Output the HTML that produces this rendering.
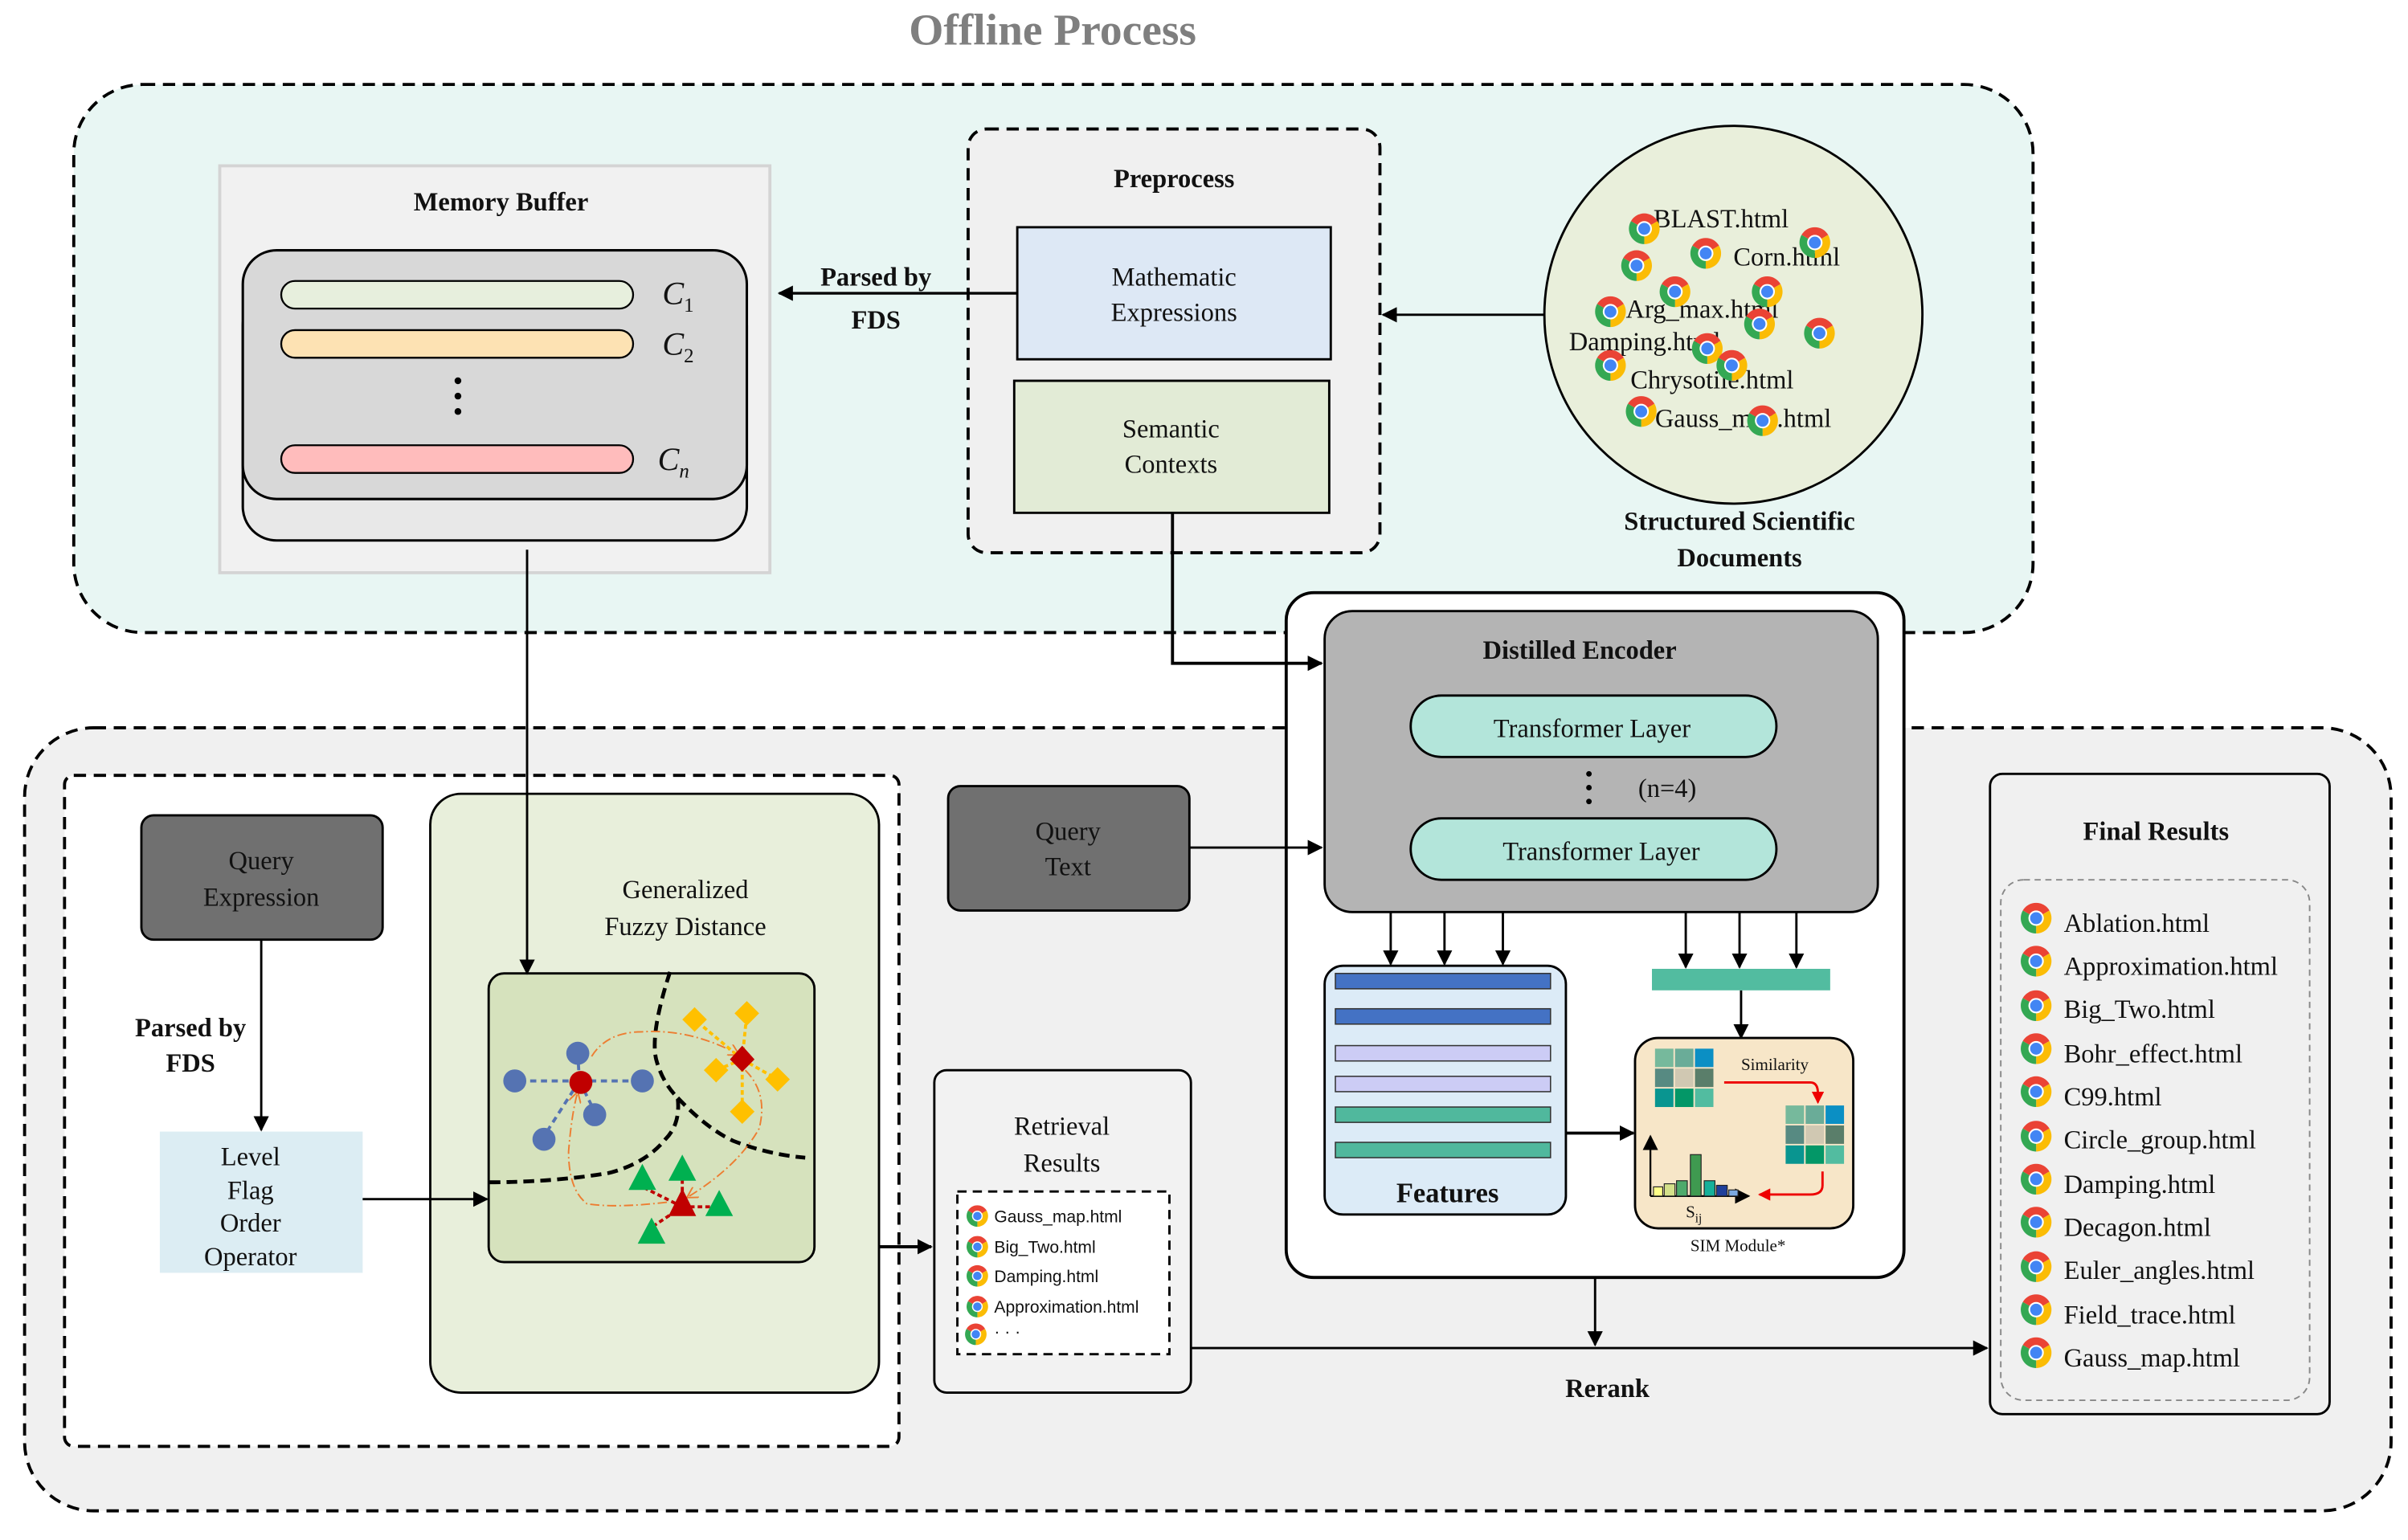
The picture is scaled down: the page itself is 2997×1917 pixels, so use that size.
<!DOCTYPE html>
<html><head><meta charset="utf-8"><style>
html,body{margin:0;padding:0;background:#fff;}
svg{display:block;}
text{font-family:"Liberation Serif",serif;fill:#111;}
.b{font-weight:bold;}
.s{font-family:"Liberation Sans",sans-serif;}
</style></head><body>
<svg width="2997" height="1917" viewBox="0 0 1567 1003" preserveAspectRatio="none" xmlns="http://www.w3.org/2000/svg">
<defs>
<g id="ch">
<path d="M0,0 L-8.66,-5 A10,10 0 0 1 8.66,-5 Z" fill="#ea4335"/>
<path d="M0,0 L8.66,-5 A10,10 0 0 1 0,10 Z" fill="#fbbc05"/>
<path d="M0,0 L0,10 A10,10 0 0 1 -8.66,-5 Z" fill="#34a853"/>
<circle r="5" fill="#fff"/><circle r="3.9" fill="#4285f4"/>
</g>
<marker id="ar" markerWidth="10" markerHeight="10" refX="9" refY="5" orient="auto" markerUnits="userSpaceOnUse"><path d="M0,0 L10,5 L0,10 Z" fill="#000"/></marker>
<marker id="ra" markerWidth="8" markerHeight="8" refX="7" refY="4" orient="auto" markerUnits="userSpaceOnUse"><path d="M0,0 L8,4 L0,8 Z" fill="#e00"/></marker>
<marker id="oa" markerWidth="8" markerHeight="8" refX="7" refY="4" orient="auto" markerUnits="userSpaceOnUse"><path d="M0,0 L7,4 L0,8" fill="none" stroke="#ed7d31" stroke-width="1"/></marker>
</defs>

<text x="685" y="29" text-anchor="middle" class="b" font-size="29" style="fill:#7f7f7f">Offline Process</text>

<rect x="48" y="55" width="1275" height="357" rx="45" fill="#e8f6f3" stroke="#000" stroke-width="2" stroke-dasharray="8,5"/>
<rect x="16" y="474" width="1540" height="510" rx="45" fill="#f0f0f0" stroke="#000" stroke-width="2" stroke-dasharray="8,5"/>
<rect x="42" y="505" width="543" height="437" rx="6" fill="#fff" stroke="#000" stroke-width="2" stroke-dasharray="8,5"/>

<rect x="143" y="108" width="358" height="265" fill="#f1f1f1" stroke="#d4d4d4" stroke-width="2"/>
<text x="326" y="137" text-anchor="middle" class="b" font-size="17">Memory Buffer</text>
<rect x="158" y="190" width="328" height="162" rx="22" fill="#e8e8e8" stroke="#000" stroke-width="1.6"/>
<rect x="158" y="163" width="328" height="162" rx="22" fill="#d8d8d8" stroke="#000" stroke-width="1.6"/>
<rect x="183" y="183" width="229" height="18" rx="9" fill="#e7efdd" stroke="#000" stroke-width="1.2"/>
<rect x="183" y="215" width="229" height="18" rx="9" fill="#fde2b3" stroke="#000" stroke-width="1.2"/>
<rect x="183" y="290" width="229" height="18" rx="9" fill="#ffbcbc" stroke="#000" stroke-width="1.2"/>
<text x="431" y="198" font-size="21" font-style="italic">C<tspan font-size="13" dy="5" font-style="normal">1</tspan></text>
<text x="431" y="231" font-size="21" font-style="italic">C<tspan font-size="13" dy="5" font-style="normal">2</tspan></text>
<text x="428" y="306" font-size="21" font-style="italic">C<tspan font-size="13" dy="5">n</tspan></text>
<circle cx="298" cy="248" r="2.2" fill="#000"/><circle cx="298" cy="258" r="2.2" fill="#000"/><circle cx="298" cy="268" r="2.2" fill="#000"/>

<rect x="630" y="84" width="268" height="276" rx="12" fill="#f0f0f0" stroke="#000" stroke-width="2" stroke-dasharray="8,5"/>
<text x="764" y="122" text-anchor="middle" class="b" font-size="17">Preprocess</text>
<rect x="662" y="148" width="204" height="86" fill="#dde8f5" stroke="#000" stroke-width="1.5"/>
<text x="764" y="186" text-anchor="middle" font-size="17">Mathematic</text>
<text x="764" y="209" text-anchor="middle" font-size="17">Expressions</text>
<rect x="660" y="248" width="205" height="86" fill="#e2ebd6" stroke="#000" stroke-width="1.5"/>
<text x="762" y="285" text-anchor="middle" font-size="17">Semantic</text>
<text x="762" y="308" text-anchor="middle" font-size="17">Contexts</text>

<line x1="662" y1="191" x2="507" y2="191" stroke="#000" stroke-width="1.8" marker-end="url(#ar)"/>
<text x="570" y="186" text-anchor="middle" class="b" font-size="17">Parsed by</text>
<text x="570" y="214" text-anchor="middle" class="b" font-size="17">FDS</text>

<circle cx="1128" cy="205" r="123" fill="#e9efdb" stroke="#000" stroke-width="1.5"/>
<line x1="1005" y1="205" x2="900" y2="205" stroke="#000" stroke-width="1.5" marker-end="url(#ar)"/>
<g font-size="17">
<text x="1076" y="148">BLAST.html</text>
<text x="1128" y="173">Corn.html</text>
<text x="1058" y="207">Arg_max.html</text>
<text x="1021" y="228">Damping.html</text>
<text x="1061" y="253">Chrysotile.html</text>
<text x="1077" y="278">Gauss_map.html</text>
</g>
<use href="#ch" x="1070" y="149"/><use href="#ch" x="1110" y="165"/><use href="#ch" x="1181" y="158"/>
<use href="#ch" x="1065" y="173"/><use href="#ch" x="1090" y="190"/><use href="#ch" x="1150" y="190"/>
<use href="#ch" x="1048" y="203"/><use href="#ch" x="1145" y="211"/><use href="#ch" x="1184" y="217"/>
<use href="#ch" x="1111" y="227"/><use href="#ch" x="1127" y="238"/><use href="#ch" x="1048" y="238"/>
<use href="#ch" x="1068" y="268"/><use href="#ch" x="1147" y="274"/>
<text x="1132" y="345" text-anchor="middle" class="b" font-size="17">Structured Scientific</text>
<text x="1132" y="369" text-anchor="middle" class="b" font-size="17">Documents</text>

<rect x="837" y="386" width="402" height="446" rx="18" fill="#fff" stroke="#000" stroke-width="2"/>
<polyline points="763,334 763,432 860,432" fill="none" stroke="#000" stroke-width="2" marker-end="url(#ar)"/>
<rect x="862" y="398" width="360" height="196" rx="18" fill="#b4b4b4" stroke="#000" stroke-width="1.5"/>
<text x="1028" y="429" text-anchor="middle" class="b" font-size="17">Distilled Encoder</text>
<rect x="918" y="453" width="238" height="40" rx="20" fill="#b3e5da" stroke="#000" stroke-width="1.5"/>
<text x="1036" y="480" text-anchor="middle" font-size="17">Transformer Layer</text>
<rect x="918" y="533" width="238" height="40" rx="20" fill="#b3e5da" stroke="#000" stroke-width="1.5"/>
<text x="1042" y="560" text-anchor="middle" font-size="17">Transformer Layer</text>
<circle cx="1034" cy="504" r="1.8" fill="#000"/><circle cx="1034" cy="513" r="1.8" fill="#000"/><circle cx="1034" cy="522" r="1.8" fill="#000"/>
<text x="1085" y="519" text-anchor="middle" font-size="17">(n=4)</text>

<g stroke="#000" stroke-width="1.5">
<line x1="905" y1="594" x2="905" y2="628" marker-end="url(#ar)"/>
<line x1="940" y1="594" x2="940" y2="628" marker-end="url(#ar)"/>
<line x1="978" y1="594" x2="978" y2="628" marker-end="url(#ar)"/>
<line x1="1097" y1="594" x2="1097" y2="630" marker-end="url(#ar)"/>
<line x1="1132" y1="594" x2="1132" y2="630" marker-end="url(#ar)"/>
<line x1="1169" y1="594" x2="1169" y2="630" marker-end="url(#ar)"/>
<line x1="1133" y1="645" x2="1133" y2="676" marker-end="url(#ar)"/>
<line x1="1019" y1="738" x2="1063" y2="738" stroke-width="2" marker-end="url(#ar)"/>
</g>

<rect x="862" y="629" width="157" height="162" rx="12" fill="#dcebf7" stroke="#000" stroke-width="1.5"/>
<g stroke="#333" stroke-width="0.8">
<rect x="869" y="634" width="140" height="10" fill="#4472c4"/>
<rect x="869" y="657" width="140" height="10" fill="#4472c4"/>
<rect x="869" y="681" width="140" height="10" fill="#ccccf5"/>
<rect x="869" y="701" width="140" height="10" fill="#ccccf5"/>
<rect x="869" y="721" width="140" height="10" fill="#50b89d"/>
<rect x="869" y="744" width="140" height="10" fill="#50b89d"/>
</g>
<text x="942" y="783" text-anchor="middle" class="b" font-size="18">Features</text>
<rect x="1075" y="631" width="116" height="14" fill="#52bca0"/>

<rect x="1064" y="676" width="142" height="124" rx="15" fill="#f7e6c8" stroke="#000" stroke-width="1.5"/>
<g>
<rect x="1077" y="683" width="12" height="12" fill="#76b99c"/><rect x="1090" y="683" width="12" height="12" fill="#6aac98"/><rect x="1103" y="683" width="12" height="12" fill="#0b8fc4"/>
<rect x="1077" y="696" width="12" height="12" fill="#578a82"/><rect x="1090" y="696" width="12" height="12" fill="#d0c8b2"/><rect x="1103" y="696" width="12" height="12" fill="#5a7e6a"/>
<rect x="1077" y="709" width="12" height="12" fill="#099590"/><rect x="1090" y="709" width="12" height="12" fill="#039767"/><rect x="1103" y="709" width="12" height="12" fill="#52bca0"/>
<rect x="1162" y="720" width="12" height="12" fill="#76b99c"/><rect x="1175" y="720" width="12" height="12" fill="#6aac98"/><rect x="1188" y="720" width="12" height="12" fill="#0b8fc4"/>
<rect x="1162" y="733" width="12" height="12" fill="#578a82"/><rect x="1175" y="733" width="12" height="12" fill="#d0c8b2"/><rect x="1188" y="733" width="12" height="12" fill="#5a7e6a"/>
<rect x="1162" y="746" width="12" height="12" fill="#099590"/><rect x="1175" y="746" width="12" height="12" fill="#039767"/><rect x="1188" y="746" width="12" height="12" fill="#52bca0"/>
</g>
<text x="1155" y="697" text-anchor="middle" font-size="11">Similarity</text>
<path d="M1122,705 L1178,705 Q1183,705 1183,712 L1183,718" fill="none" stroke="#e00" stroke-width="1.5" marker-end="url(#ra)"/>
<path d="M1186,763 L1186,772 Q1186,778 1178,778 L1145,778" fill="none" stroke="#e00" stroke-width="1.5" marker-end="url(#ra)"/>
<line x1="1074" y1="779" x2="1074" y2="740" stroke="#000" stroke-width="1.2" marker-end="url(#ar)"/>
<line x1="1074" y1="779" x2="1138" y2="779" stroke="#000" stroke-width="1.2" marker-end="url(#ar)"/>
<g stroke="#222" stroke-width="0.6">
<rect x="1076" y="773" width="6" height="6" fill="#ffff88"/>
<rect x="1083" y="771" width="7" height="8" fill="#d4e08a"/>
<rect x="1091" y="769" width="7" height="10" fill="#4daa6c"/>
<rect x="1100" y="752" width="7" height="27" fill="#3f9a50"/>
<rect x="1109" y="769" width="7" height="10" fill="#16b09a"/>
<rect x="1117" y="772" width="7" height="7" fill="#1f3f9a"/>
<rect x="1125" y="775" width="6" height="4" fill="#7aa8e0"/>
</g>
<text x="1097" y="793" font-size="11">S<tspan font-size="8" dy="3">ij</tspan></text>
<text x="1131" y="815" text-anchor="middle" font-size="11">SIM Module*</text>

<rect x="617" y="512" width="157" height="81" rx="8" fill="#707070" stroke="#000" stroke-width="1.5"/>
<text x="695" y="547" text-anchor="middle" font-size="17">Query</text>
<text x="695" y="570" text-anchor="middle" font-size="17">Text</text>
<line x1="774" y1="552" x2="860" y2="552" stroke="#000" stroke-width="1.5" marker-end="url(#ar)"/>

<rect x="92" y="531" width="157" height="81" rx="8" fill="#707070" stroke="#000" stroke-width="1.5"/>
<text x="170" y="566" text-anchor="middle" font-size="17">Query</text>
<text x="170" y="590" text-anchor="middle" font-size="17">Expression</text>
<line x1="170" y1="612" x2="170" y2="736" stroke="#000" stroke-width="1.5" marker-end="url(#ar)"/>
<text x="124" y="675" text-anchor="middle" class="b" font-size="17">Parsed by</text>
<text x="124" y="698" text-anchor="middle" class="b" font-size="17">FDS</text>

<rect x="104" y="737" width="132" height="92" fill="#dcedf3"/>
<g font-size="17" text-anchor="middle">
<text x="163" y="759">Level</text><text x="163" y="781">Flag</text><text x="163" y="802">Order</text><text x="163" y="824">Operator</text>
</g>

<rect x="280" y="517" width="292" height="390" rx="20" fill="#e8efdb" stroke="#000" stroke-width="1.5"/>
<text x="446" y="585" text-anchor="middle" font-size="17">Generalized</text>
<text x="446" y="609" text-anchor="middle" font-size="17">Fuzzy Distance</text>
<rect x="318" y="634" width="212" height="188" rx="10" fill="#d6e2bd" stroke="#000" stroke-width="1.5"/>
<line x1="236" y1="781" x2="317" y2="781" stroke="#000" stroke-width="1.5" marker-end="url(#ar)"/>
<line x1="343" y1="358" x2="343" y2="634" stroke="#000" stroke-width="1.5" marker-end="url(#ar)"/>
<line x1="572" y1="812" x2="606" y2="812" stroke="#000" stroke-width="2" marker-end="url(#ar)"/>

<g fill="none" stroke="#000" stroke-width="2.5" stroke-dasharray="7,4">
<path d="M436,633 Q423,673 427,690 Q431,705 441,715 Q443,732 433,742 Q420,758 396,764 Q360,770 318,770"/>
<path d="M441,715 Q460,735 477,743 Q500,752 524,754"/>
</g>
<g fill="none" stroke="#ed7d31" stroke-width="1" stroke-dasharray="6,2,1,2">
<path d="M385,688 Q395,672 418,672 Q450,670 481,687" marker-end="url(#oa)"/>
<path d="M485,697 Q500,712 494,735 Q480,760 447,780" marker-end="url(#oa)"/>
<path d="M434,783 Q400,787 382,784 Q370,775 370,750 Q372,725 376,711" marker-end="url(#oa)"/>
</g>
<g stroke="#5573b2" stroke-width="2" stroke-dasharray="4,3">
<line x1="377" y1="704" x2="335" y2="704"/><line x1="377" y1="704" x2="418" y2="704"/><line x1="377" y1="704" x2="376" y2="686"/><line x1="377" y1="704" x2="387" y2="724"/><line x1="377" y1="704" x2="354" y2="740"/>
</g>
<g fill="#5573b2">
<circle cx="335" cy="704" r="7.5"/><circle cx="376" cy="686" r="7.5"/><circle cx="418" cy="704" r="7.5"/><circle cx="387" cy="726" r="7.5"/><circle cx="354" cy="742" r="7.5"/>
</g>
<circle cx="378" cy="705" r="7.5" fill="#c00000"/>
<g stroke="#ffc000" stroke-width="2" stroke-dasharray="3,2">
<line x1="483" y1="690" x2="452" y2="664"/><line x1="483" y1="690" x2="486" y2="660"/><line x1="483" y1="690" x2="466" y2="697"/><line x1="483" y1="690" x2="506" y2="703"/><line x1="483" y1="690" x2="483" y2="724"/>
</g>
<g fill="#ffc000">
<path d="M452,656 L460,664 L452,672 L444,664 Z"/><path d="M486,652 L494,660 L486,668 L478,660 Z"/><path d="M466,689 L474,697 L466,705 L458,697 Z"/><path d="M506,695 L514,703 L506,711 L498,703 Z"/><path d="M483,716 L491,724 L483,732 L475,724 Z"/>
</g>
<path d="M483,681 L491,690 L483,698 L475,690 Z" fill="#c00000"/>
<g stroke="#c00000" stroke-width="2" stroke-dasharray="3,2">
<line x1="444" y1="786" x2="444" y2="768"/><line x1="444" y1="786" x2="420" y2="774"/><line x1="444" y1="786" x2="466" y2="786"/><line x1="444" y1="786" x2="426" y2="798"/>
</g>
<g fill="#00b050">
<path d="M444,752 L453,769 L435,769 Z"/><path d="M418,758 L427,775 L409,775 Z"/><path d="M468,775 L477,792 L459,792 Z"/><path d="M424,793 L433,810 L415,810 Z"/>
</g>
<path d="M444,774 L453,792 L435,792 Z" fill="#c00000"/>

<rect x="608" y="697" width="167" height="210" rx="8" fill="#f2f2f2" stroke="#000" stroke-width="1.5"/>
<text x="691" y="739" text-anchor="middle" font-size="17">Retrieval</text>
<text x="691" y="763" text-anchor="middle" font-size="17">Results</text>
<rect x="623" y="776" width="138" height="106" fill="#fff" stroke="#000" stroke-width="1.5" stroke-dasharray="6,4"/>
<g font-size="11" class="s">
<use href="#ch" transform="translate(636,792) scale(0.7)"/><text x="647" y="796" class="s">Gauss_map.html</text>
<use href="#ch" transform="translate(636,812) scale(0.7)"/><text x="647" y="816" class="s">Big_Two.html</text>
<use href="#ch" transform="translate(636,831) scale(0.7)"/><text x="647" y="835" class="s">Damping.html</text>
<use href="#ch" transform="translate(636,851) scale(0.7)"/><text x="647" y="855" class="s">Approximation.html</text>
<use href="#ch" transform="translate(635,869) scale(0.7)"/><text x="647" y="871" class="s">· · ·</text>
</g>
<line x1="775" y1="878" x2="1293" y2="878" stroke="#000" stroke-width="1.5" marker-end="url(#ar)"/>
<line x1="1038" y1="832" x2="1038" y2="876" stroke="#000" stroke-width="1.5" marker-end="url(#ar)"/>
<text x="1046" y="910" text-anchor="middle" class="b" font-size="17">Rerank</text>

<rect x="1295" y="504" width="221" height="417" rx="8" fill="#f0f0f0" stroke="#000" stroke-width="1.5"/>
<text x="1403" y="547" text-anchor="middle" class="b" font-size="17">Final Results</text>
<rect x="1302" y="573" width="201" height="339" rx="15" fill="#f0f0f0" stroke="#888" stroke-width="1" stroke-dasharray="4,3"/>
<g font-size="17">
<use href="#ch" x="1325" y="598"/><text x="1343" y="607">Ablation.html</text>
<use href="#ch" x="1325" y="626"/><text x="1343" y="635">Approximation.html</text>
<use href="#ch" x="1325" y="655"/><text x="1343" y="663">Big_Two.html</text>
<use href="#ch" x="1325" y="683"/><text x="1343" y="692">Bohr_effect.html</text>
<use href="#ch" x="1325" y="711"/><text x="1343" y="720">C99.html</text>
<use href="#ch" x="1325" y="740"/><text x="1343" y="748">Circle_group.html</text>
<use href="#ch" x="1325" y="768"/><text x="1343" y="777">Damping.html</text>
<use href="#ch" x="1325" y="796"/><text x="1343" y="805">Decagon.html</text>
<use href="#ch" x="1325" y="825"/><text x="1343" y="833">Euler_angles.html</text>
<use href="#ch" x="1325" y="853"/><text x="1343" y="862">Field_trace.html</text>
<use href="#ch" x="1325" y="881"/><text x="1343" y="890">Gauss_map.html</text>
</g>
</svg>
</body></html>
